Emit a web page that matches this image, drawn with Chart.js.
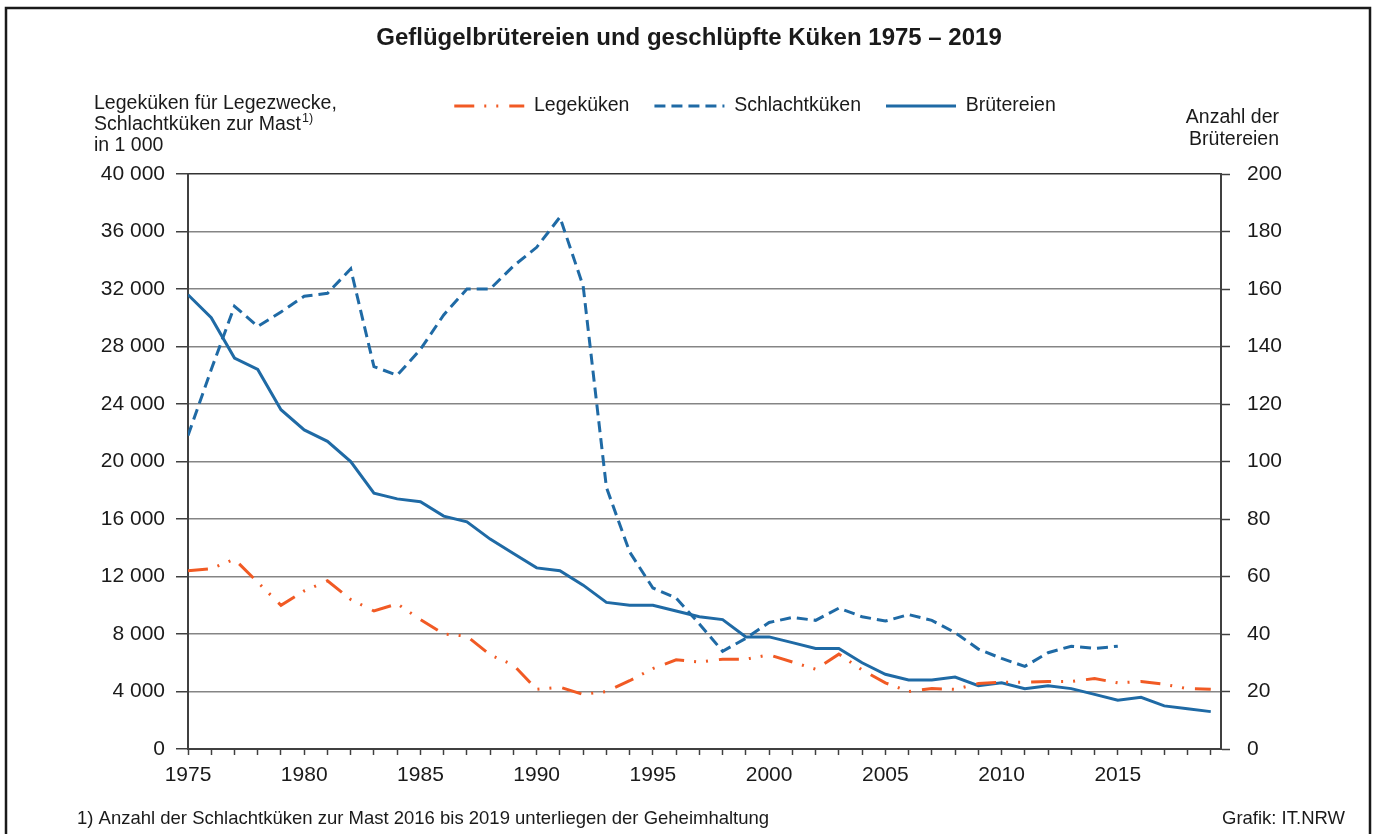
<!DOCTYPE html>
<html><head><meta charset="utf-8">
<script src="https://cdn.jsdelivr.net/npm/chart.js@4/dist/chart.umd.min.js"></script>
<style>html,body{margin:0;padding:0;background:#fff;}canvas{display:block;}</style>
</head><body>
<canvas id="c" width="1378" height="834"></canvas>
<script>
const years = [1975,1976,1977,1978,1979,1980,1981,1982,1983,1984,1985,1986,1987,1988,1989,1990,1991,1992,1993,1994,1995,1996,1997,1998,1999,2000,2001,2002,2003,2004,2005,2006,2007,2008,2009,2010,2011,2012,2013,2014,2015,2016,2017,2018,2019];
const legekueken = [12400,12550,13200,11600,10000,11000,11700,10400,9600,10100,9000,8000,7850,6550,5850,4150,4300,3800,4000,4750,5600,6200,6050,6250,6250,6550,6050,5550,6600,5500,4600,4000,4200,4150,4550,4650,4650,4700,4700,4900,4600,4700,4500,4200,4150];
const schlachtkueken = [21800,26400,30800,29400,30400,31500,31700,33400,26600,26000,27800,30200,32000,32000,33600,34900,37000,32200,18200,13700,11200,10500,8700,6800,7700,8800,9150,8950,9800,9200,8900,9350,8950,8100,6950,6300,5750,6700,7150,7000,7150,null,null,null,null];
const bruetereien = [158,150,136,132,118,111,107,100,89,87,86,81,79,73,68,63,62,57,51,50,50,48,46,45,39,39,37,35,35,30,26,24,24,25,22,23,21,22,21,19,17,18,15,14,13];
const xTickLabels = [1975,1980,1985,1990,1995,2000,2005,2010,2015];
const seriesNames = ['Legeküken','Schlachtküken','Brütereien'];

const FONT = '"Liberation Sans", Arial, sans-serif';
const TXT = '#1a1a1a';
const BLUE = '#1f6aa5';
const ORANGE = '#f15a24';
const fmt = v => String(v).replace(/\B(?=(\d{3})+(?!\d))/g, ' ');
const pts = arr => years.map((y, i) => ({x: y, y: arr[i]}));

const annot = {
  id: 'annot',
  afterInit(chart) {
    const lg = chart.legend;
    if (lg) {
      const f = lg.fit.bind(lg);
      lg.fit = function () { f(); this.height += 48.25; };
    }
  },
  afterLayout(chart) {
    const lg = chart.legend;
    if (lg) { lg.left += 66; lg.right += 66; }
  },
  beforeDraw(chart) {
    const c = chart.ctx;
    c.save(); c.fillStyle = '#fff'; c.fillRect(0, 0, chart.width, chart.height); c.restore();
  },
  afterDraw(chart) {
    const c = chart.ctx;
    c.save();
    c.strokeStyle = '#1a1a1a'; c.lineWidth = 2.5;
    c.beginPath(); c.moveTo(6, 840); c.lineTo(6, 8); c.lineTo(1370, 8); c.lineTo(1370, 840); c.stroke();
    c.fillStyle = TXT; c.textBaseline = 'alphabetic';
    c.font = '19.5px ' + FONT; c.textAlign = 'left';
    c.fillText('Legeküken für Legezwecke,', 94, 109);
    const s2 = 'Schlachtküken zur Mast';
    c.fillText(s2, 94, 130);
    const w = c.measureText(s2).width;
    c.font = '12.5px ' + FONT;
    c.fillText('1)', 94 + w + 1, 122);
    c.font = '19.5px ' + FONT;
    c.fillText('in 1 000', 94, 151);
    c.textAlign = 'right';
    c.fillText('Anzahl der', 1279, 123);
    c.fillText('Brütereien', 1279, 145);
    c.font = '18.5px ' + FONT;
    c.textAlign = 'left';
    c.fillText('1) Anzahl der Schlachtküken zur Mast 2016 bis 2019 unterliegen der Geheimhaltung', 77, 824);
    c.textAlign = 'right';
    c.fillText('Grafik: IT.NRW', 1345, 824);
    c.restore();
  }
};

new Chart(document.getElementById('c'), {
  type: 'line',
  data: {
    datasets: [
      {label: seriesNames[0], data: pts(legekueken), yAxisID: 'y', borderColor: ORANGE, backgroundColor: ORANGE,
       borderWidth: 3, borderDash: [20, 10, 2, 10, 2, 11], pointRadius: 0, tension: 0, fill: false},
      {label: seriesNames[1], data: pts(schlachtkueken), yAxisID: 'y', borderColor: BLUE, backgroundColor: BLUE,
       borderWidth: 3, borderDash: [11, 6], pointRadius: 0, tension: 0, fill: false, spanGaps: false},
      {label: seriesNames[2], data: pts(bruetereien), yAxisID: 'y1', borderColor: BLUE, backgroundColor: BLUE,
       borderWidth: 3, pointRadius: 0, tension: 0, fill: false}
    ]
  },
  options: {
    responsive: false, animation: false, devicePixelRatio: 1,
    layout: {padding: 0},
    plugins: {
      title: {display: true, text: 'Geflügelbrütereien und geschlüpfte Küken 1975 – 2019', color: TXT,
        font: {family: FONT, size: 24, weight: 'bold'}, padding: {top: 24, bottom: 18.45}},
      legend: {display: true, position: 'top',
        labels: {usePointStyle: true, pointStyle: 'line', pointStyleWidth: 70, padding: 25, color: TXT,
          font: {family: FONT, size: 19.5},
          generateLabels: chart => Chart.defaults.plugins.legend.labels.generateLabels(chart).map(it => {
            const ds = chart.data.datasets[it.datasetIndex];
            it.lineDash = ds.borderDash || [];
            it.lineWidth = ds.borderWidth;
            it.strokeStyle = ds.borderColor;
            it.fillStyle = ds.borderColor;
            it.pointStyle = 'line';
            return it;
          })}},
      tooltip: {enabled: false}
    },
    scales: {
      x: {type: 'linear', min: 1975, max: 2019.44, position: 'bottom',
        afterFit: s => { s.height = 85; },
        grid: {drawOnChartArea: false, drawTicks: true, tickLength: 6, tickColor: '#404040', tickWidth: 1.5},
        border: {color: '#404040', width: 2},
        ticks: {stepSize: 1, autoSkip: false, includeBounds: false, maxRotation: 0, minRotation: 0, padding: 8,
          color: TXT, font: {family: FONT, size: 21},
          callback: v => xTickLabels.includes(v) ? String(v) : ''}},
      y: {type: 'linear', position: 'left', min: 0, max: 40000,
        afterFit: s => { s.width = 188; },
        grid: {color: ctx => ctx.tick && ctx.tick.value === 40000 ? '#333' : '#858585', lineWidth: 1.5,
          drawTicks: true, tickLength: 12, tickColor: '#404040', tickWidth: 1.5},
        border: {color: '#404040', width: 2},
        ticks: {stepSize: 4000, padding: 11, color: TXT, font: {family: FONT, size: 21}, callback: v => fmt(v)}},
      y1: {type: 'linear', position: 'right', min: 0, max: 200,
        afterFit: s => { s.width = 157; },
        grid: {drawOnChartArea: false, drawTicks: true, tickLength: 9, tickColor: '#404040', tickWidth: 1.5},
        border: {color: '#404040', width: 2},
        ticks: {stepSize: 20, padding: 17, color: TXT, font: {family: FONT, size: 21}}}
    }
  },
  plugins: [annot]
});
</script>
</body></html>
